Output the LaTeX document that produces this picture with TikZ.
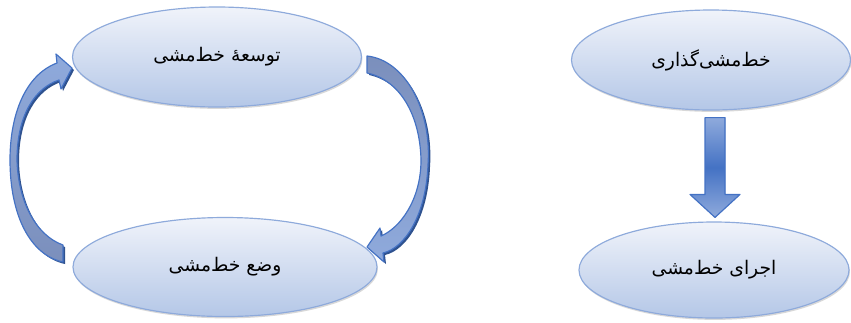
\documentclass[tikz,border=0pt]{standalone}
\usepackage{fontspec}
\newfontfamily\arabicfont[Script=Arabic]{DejaVu Sans}
\TeXXeTstate=1
\usepackage{tikz}
\usetikzlibrary{calc,shapes.geometric,shadows}

\definecolor{ellborder}{HTML}{8EAADB}
\definecolor{elltop}{HTML}{F0F3FA}
\definecolor{ellbottom}{HTML}{B4C7E7}
\definecolor{arrblue}{HTML}{4472C4}
\definecolor{arrdark}{HTML}{2F528F}
\definecolor{arrgrey}{HTML}{7B8FBC}
\definecolor{arrlight}{HTML}{8FAADC}

\tikzset{
  stage/.style={ellipse, draw=ellborder, line width=1pt, top color=elltop, bottom color=ellbottom,
    drop shadow={shadow xshift=0.8pt, shadow yshift=-1.6pt, fill=black!30},
    font=\arabicfont\fontsize{16}{19}\selectfont, inner sep=0pt},
  blockarrow/.style={draw=arrblue, line width=1pt, line join=round},
  arrowshade/.style={fill=arrdark}
}

% curved block arrows (pixel units)
\newcommand{\loopright}{(367,56) .. controls (405,60) and (432,110) .. (428,165)
  .. controls (426,215) and (405,248) .. (383,253) -- (384,262) -- (367,247) -- (380,228)
  -- (381,236) .. controls (400,228) and (421,200) .. (421,160)
  .. controls (420,115) and (400,80) .. (367,73) -- cycle}
\newcommand{\loopleft}{(63,245) .. controls (35,235) and (18,200) .. (17,160)
  .. controls (17,115) and (35,88) .. (59,80) -- (61,89) -- (72,68) -- (56,54)
  -- (57,63) .. controls (25,75) and (10,115) .. (10,160)
  .. controls (10,215) and (30,255) .. (63,262) -- cycle}

\begin{document}
\begin{tikzpicture}[x=0.03cm, y=-0.03cm]
\useasboundingbox (0,0) rectangle (851,322);

% Stages of the cycle
\node[stage, minimum width=8.67cm, minimum height=3.0cm] (develop) at (217,57) {\beginR توسعهٔ خط‌مشی\endR};
\node[stage, minimum width=9.12cm, minimum height=2.97cm] (place) at (225,267) {\beginR وضع خط‌مشی\endR};

% Making and running
\node[stage, minimum width=8.37cm, minimum height=3.0cm] (make) at (711,60) {\beginR خط‌مشی‌گذاری\endR};
\node[stage, minimum width=8.1cm, minimum height=2.88cm] (run) at (714,270) {\beginR اجرای خط‌مشی\endR};

% Curved arrows
\path[arrowshade, shift={(2,2)}] \loopright;
\path[blockarrow, top color=arrgrey, bottom color=arrlight] \loopright;
\path[arrowshade, shift={(2,2)}] \loopleft;
\path[blockarrow, top color=arrlight, bottom color=arrgrey] \loopleft;

% Straight arrow
\coordinate (dtop) at ($(make.south)+(4,7)$);
\coordinate (dtip) at ($(run.north)+(1,-4)$);
\path[arrowshade, shift={(3,2)}] ($(dtop)+(-10,0)$) -- ($(dtop)+(10,0)$) -- ($(dtip)+(10,-23)$) -- ($(dtip)+(25,-23)$)
  -- (dtip) -- ($(dtip)+(-25,-23)$) -- ($(dtip)+(-10,-23)$) -- cycle;
\path[blockarrow, top color=arrlight, bottom color=arrlight, middle color=arrblue]
  ($(dtop)+(-10,0)$) -- ($(dtop)+(10,0)$) -- ($(dtip)+(10,-23)$) -- ($(dtip)+(25,-23)$)
  -- (dtip) -- ($(dtip)+(-25,-23)$) -- ($(dtip)+(-10,-23)$) -- cycle;
\end{tikzpicture}
\end{document}
